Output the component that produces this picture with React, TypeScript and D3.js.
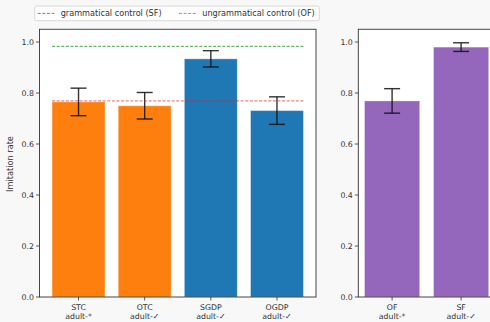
import { useEffect } from "react"
import * as d3 from "d3"

// left panel: experimental conditions
const leftLabels = ["STC", "OTC", "SGDP", "OGDP"]
const leftSub = ["adult-*", "adult-✓", "adult-✓", "adult-✓"]
const leftValues = [0.765, 0.75, 0.934, 0.731]
const leftErrors = [0.054, 0.052, 0.032, 0.054]
const leftGroups = ["trans", "trans", "gdp", "gdp"]

// right panel: fillers
const rightLabels = ["OF", "SF"]
const rightSub = ["adult-*", "adult-✓"]
const rightValues = [0.769, 0.98]
const rightErrors = [0.048, 0.017]

// control reference lines
const controlSF = 0.983
const controlOF = 0.769

const yTicks = [0, 0.2, 0.4, 0.6, 0.8, 1.0]

const groupColor: Record<string, string> = { trans: "#ff7f0e", gdp: "#1f77b4", filler: "#9467bd" }
const font = "DejaVu Sans, sans-serif"
const fs = 7.8

export default function App() {
  useEffect(() => {
    document.body.style.margin = "0"
  }, [])

  const W = 490
  const H = 322
  const y = d3.scaleLinear().domain([0, 1.05]).range([297, 29.25])
  const xl = d3.scaleLinear().domain([-0.59, 3.59]).range([39.5, 316])
  const xr = d3.scaleLinear().domain([-0.49, 1.49]).range([358.3, 494.9])
  const barW = 0.8
  const capHalf = 8

  const yAxis = (x0: number) => (
    <g>
      {yTicks.map((t) => (
        <g key={t}>
          <line x1={x0 - 3.5} x2={x0} y1={y(t)} y2={y(t)} stroke="#333" strokeWidth={0.8} />
          <text x={x0 - 5.5} y={y(t) + 2.8} textAnchor="end" fontSize={fs} fill="#333" fontFamily={font}>
            {t.toFixed(1)}
          </text>
        </g>
      ))}
    </g>
  )

  const bars = (
    x: d3.ScaleLinear<number, number>,
    labels: string[],
    subs: string[],
    values: number[],
    errors: number[],
    colors: string[]
  ) => (
    <g>
      {values.map((v, i) => (
        <rect
          key={labels[i]}
          x={x(i - barW / 2)}
          y={y(v)}
          width={x(barW) - x(0)}
          height={y(0) - y(v)}
          fill={colors[i]}
          stroke="#ffffff"
          strokeOpacity={0.35}
          strokeWidth={1}
        />
      ))}
      {labels.map((l, i) => (
        <g key={l + "t"}>
          <line x1={x(i)} x2={x(i)} y1={297} y2={300.5} stroke="#333" strokeWidth={0.8} />
          <text x={x(i)} y={309.8} textAnchor="middle" fontSize={fs} fill="#333" fontFamily={font}>
            {l}
          </text>
          <text x={x(i)} y={319.3} textAnchor="middle" fontSize={fs} fill="#333" fontFamily={font}>
            {subs[i]}
          </text>
        </g>
      ))}
      {values.map((v, i) => (
        <g key={labels[i] + "e"} stroke="#111" strokeOpacity={0.85} strokeWidth={1.4}>
          <line x1={x(i)} x2={x(i)} y1={y(v - errors[i])} y2={y(v + errors[i])} />
          <line x1={x(i) - capHalf} x2={x(i) + capHalf} y1={y(v - errors[i])} y2={y(v - errors[i])} />
          <line x1={x(i) - capHalf} x2={x(i) + capHalf} y1={y(v + errors[i])} y2={y(v + errors[i])} />
        </g>
      ))}
    </g>
  )

  return (
    <svg width={W} height={H} style={{ position: "absolute", left: 0, top: 0, display: "block" }}>
      <rect width={W} height={H} fill="#f8f8f8" />

      {/* left axes */}
      <rect x={39.5} y={29.25} width={316 - 39.5} height={297 - 29.25} fill="#ffffff" />
      {bars(xl, leftLabels, leftSub, leftValues, leftErrors, leftGroups.map((g) => groupColor[g]))}
      <line x1={xl(-0.4)} x2={xl(3.4)} y1={y(controlSF)} y2={y(controlSF)} stroke="#2ca02c" strokeWidth={0.9} strokeDasharray="3,1.6" />
      <line x1={xl(-0.4)} x2={xl(3.4)} y1={y(controlOF)} y2={y(controlOF)} stroke="#d62728" strokeOpacity={0.55} strokeWidth={1.4} strokeDasharray="3,1.6" />
      <rect x={39.5} y={29.25} width={316 - 39.5} height={297 - 29.25} fill="none" stroke="#333" strokeWidth={0.9} />
      {yAxis(39.5)}
      <text
        transform={`translate(12.8,164) rotate(-90)`}
        textAnchor="middle"
        fontSize={8.2}
        fill="#333"
        fontFamily={font}
      >
        Imitation rate
      </text>

      {/* right axes */}
      <rect x={358.3} y={29.25} width={W - 358.3 + 5} height={297 - 29.25} fill="#ffffff" />
      {bars(xr, rightLabels, rightSub, rightValues, rightErrors, rightLabels.map(() => groupColor.filler))}
      <rect x={358.3} y={29.25} width={494.9 - 358.3} height={297 - 29.25} fill="none" stroke="#333" strokeWidth={0.9} />
      {yAxis(358.3)}

      {/* legend */}
      <rect x={34.7} y={6} width={284.6} height={14.7} rx={2} fill="#ffffff" fillOpacity={0.85} stroke="#d0d0d0" strokeWidth={0.8} />
      <line x1={37.7} x2={54.3} y1={13.4} y2={13.4} stroke="#2ca02c" strokeWidth={0.9} strokeDasharray="3,1.6" />
      <text x={60.7} y={16.2} fontSize={8.15} fill="#333" fontFamily={font}>
        grammatical control (SF)
      </text>
      <line x1={179} x2={196.7} y1={13.4} y2={13.4} stroke="#d62728" strokeOpacity={0.7} strokeWidth={0.9} strokeDasharray="3,1.6" />
      <text x={202.3} y={16.2} fontSize={8.15} fill="#333" fontFamily={font}>
        ungrammatical control (OF)
      </text>
    </svg>
  )
}
